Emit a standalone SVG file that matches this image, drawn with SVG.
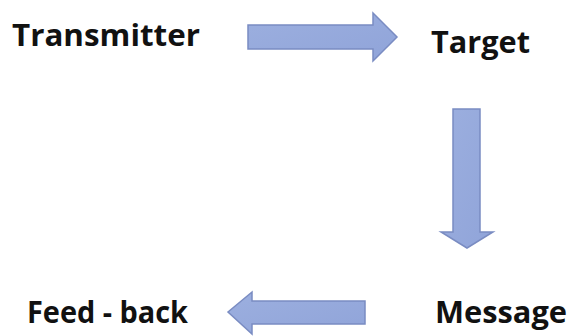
<svg xmlns="http://www.w3.org/2000/svg" width="570" height="336" viewBox="0 0 570 336">
<style>
.lbl{font-family:"Open Sans","Liberation Sans",sans-serif;font-weight:bold;font-size:31px;fill:#111}
.arr{fill:url(#g);stroke:#7a8cc2;stroke-width:1.5;stroke-linejoin:miter}
</style>
<defs>
<linearGradient id="g" x1="0" y1="0" x2="1" y2="1">
<stop offset="0" stop-color="#9cafdf"/>
<stop offset="1" stop-color="#90a4d9"/>
</linearGradient>
</defs>
<rect width="570" height="336" fill="#fff"/>
<g id="transmitter"><text class="lbl" x="12" y="46" textLength="188" lengthAdjust="spacingAndGlyphs">Transmitter</text></g>
<g id="target"><text class="lbl" x="431" y="53" textLength="99" lengthAdjust="spacingAndGlyphs">Target</text></g>
<g id="message"><text class="lbl" x="435" y="323" textLength="132" lengthAdjust="spacingAndGlyphs">Message</text></g>
<g id="feedback"><text class="lbl" x="27" y="323" textLength="161" lengthAdjust="spacingAndGlyphs">Feed - back</text></g>
<g id="connectors">
<polygon class="arr" points="248,25 373,25 373,13 397,37 373,61 373,49 248,49"/>
<polygon class="arr" points="453,109 480,109 480,232 493,232 467,248 441,232 453,232"/>
<polygon class="arr" points="365,301 252,301 252,292 228,312 252,334 252,324 365,324"/>
</g>
</svg>
